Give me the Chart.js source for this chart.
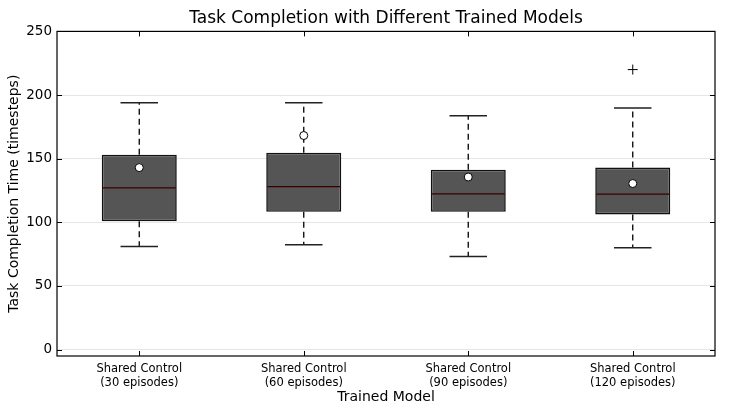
<!DOCTYPE html>
<html><head><meta charset="utf-8">
<script src="https://cdn.jsdelivr.net/npm/chart.js@4/dist/chart.umd.min.js"></script>
<style>html,body{margin:0;padding:0;background:#fff}#wrap{width:735px;height:415px}</style>
</head><body><div id="wrap"><canvas id="c"></canvas></div>
<script>
const categories = [["Shared Control","(30 episodes)"],["Shared Control","(60 episodes)"],["Shared Control","(90 episodes)"],["Shared Control","(120 episodes)"]];
const q1 = [100.8, 108.3, 108.3, 106.2];
const q3 = [153.1, 154.7, 141.4, 143.0];
const medians = [127, 128, 122.3, 122.1];
const means = [143, 168.2, 135.6, 130.5];
const whiskerLow = [81, 82.3, 73.1, 80];
const whiskerHigh = [194, 194, 183.8, 189.8];
const outliers = [null, null, null, 220];
const yTicks = [0, 50, 100, 150, 200, 250];

const FONT = "'DejaVu Sans', sans-serif";
const BOXPCT = 0.456;

const boxPlugin = {
  id: 'boxParts',
  afterLayout(chart) {
    if (chart.titleBlock) {
      chart.titleBlock.left = chart.chartArea.left;
      chart.titleBlock.right = chart.chartArea.right;
    }
  },
  afterDatasetDraw(chart, args) {
    if (args.index !== 0) return;
    const ctx = chart.ctx, x = chart.scales.x, y = chart.scales.y;
    const meta = chart.getDatasetMeta(0);
    ctx.save();
    meta.data.forEach((bar, i) => {
      const cx = x.getPixelForValue(i);
      const half = bar.width / 2;
      ctx.strokeStyle = '#000';
      ctx.lineWidth = 1.3;
      ctx.setLineDash([6, 4]);
      ctx.beginPath();
      ctx.moveTo(cx, y.getPixelForValue(q3[i]));
      ctx.lineTo(cx, y.getPixelForValue(whiskerHigh[i]));
      ctx.moveTo(cx, y.getPixelForValue(q1[i]));
      ctx.lineTo(cx, y.getPixelForValue(whiskerLow[i]));
      ctx.stroke();
      ctx.setLineDash([]);
      ctx.strokeStyle = '#222';
      ctx.lineWidth = 1.5;
      ctx.beginPath();
      [whiskerHigh[i], whiskerLow[i]].forEach(v => {
        const py = y.getPixelForValue(v);
        ctx.moveTo(cx - half / 2, py);
        ctx.lineTo(cx + half / 2, py);
      });
      ctx.stroke();
      ctx.strokeStyle = '#3a0000';
      ctx.lineWidth = 1.2;
      ctx.beginPath();
      const pm = y.getPixelForValue(medians[i]);
      ctx.moveTo(cx - half + 1, pm);
      ctx.lineTo(cx + half - 1, pm);
      ctx.stroke();
    });
    ctx.restore();
  },
  afterDraw(chart) {
    const ctx = chart.ctx, a = chart.chartArea, x = chart.scales.x, y = chart.scales.y;
    ctx.save();
    ctx.strokeStyle = '#000';
    ctx.lineWidth = 1.2;
    ctx.strokeRect(a.left, a.top, a.right - a.left, a.bottom - a.top);
    ctx.beginPath();
    yTicks.forEach(v => {
      const py = Math.round(y.getPixelForValue(v)) + 0.5;
      ctx.moveTo(a.left, py); ctx.lineTo(a.left + 5, py);
      ctx.moveTo(a.right, py); ctx.lineTo(a.right - 5, py);
    });
    categories.forEach((c, i) => {
      const px = Math.round(x.getPixelForValue(i)) + 0.5;
      ctx.moveTo(px, a.top); ctx.lineTo(px, a.top + 5);
      ctx.moveTo(px, a.bottom); ctx.lineTo(px, a.bottom - 5);
    });
    ctx.lineWidth = 1;
    ctx.stroke();
    ctx.restore();
  }
};

new Chart(document.getElementById('c'), {
  type: 'bar',
  data: {
    labels: categories,
    datasets: [
      {
        type: 'bar',
        data: q1.map((v, i) => [v, q3[i]]),
        backgroundColor: '#555555',
        borderColor: '#111',
        borderWidth: 1.6,
        borderSkipped: false,
        barPercentage: BOXPCT,
        categoryPercentage: 1,
        order: 2
      },
      {
        type: 'line',
        data: means,
        showLine: false,
        pointStyle: 'circle',
        pointRadius: 4,
        pointBackgroundColor: '#fff',
        pointBorderColor: '#000',
        pointBorderWidth: 1,
        order: 1
      },
      {
        type: 'line',
        data: outliers,
        showLine: false,
        pointStyle: 'cross',
        pointRadius: 5,
        pointBorderColor: '#000',
        pointBorderWidth: 1,
        order: 1
      }
    ]
  },
  options: {
    responsive: true,
    maintainAspectRatio: false,
    animation: false,
    devicePixelRatio: 1,
    layout: { padding: { top: 0, right: 20, bottom: 0, left: 0 } },
    plugins: {
      legend: { display: false },
      tooltip: { enabled: false },
      title: {
        display: true,
        text: 'Task Completion with Different Trained Models',
        color: '#000',
        font: { family: FONT, size: 17, weight: 'normal' },
        padding: { top: 8, bottom: 3 }
      }
    },
    scales: {
      x: {
        offset: true,
        grid: { display: false, drawTicks: false },
        border: { display: false },
        ticks: { color: '#000', font: { family: FONT, size: 11.5 }, padding: 6, maxRotation: 0, autoSkip: false },
        title: { display: true, text: 'Trained Model', color: '#000', font: { family: FONT, size: 14 }, padding: { top: 0, bottom: 9 } },
        afterFit(s) { s.height = 59; }
      },
      y: {
        min: -5,
        max: 250,
        afterBuildTicks(s) { s.ticks = yTicks.map(v => ({ value: v })); },
        grid: { color: '#e6e6e6', drawTicks: false, lineWidth: 1 },
        border: { display: false },
        ticks: { color: '#000', font: { family: FONT, size: 13.5 }, padding: 5 },
        title: { display: true, text: 'Task Completion Time (timesteps)', color: '#000', font: { family: FONT, size: 14 }, padding: { top: 6, bottom: 0 } },
        afterFit(s) { s.width = 57; }
      }
    }
  },
  plugins: [boxPlugin]
});
</script></body></html>
